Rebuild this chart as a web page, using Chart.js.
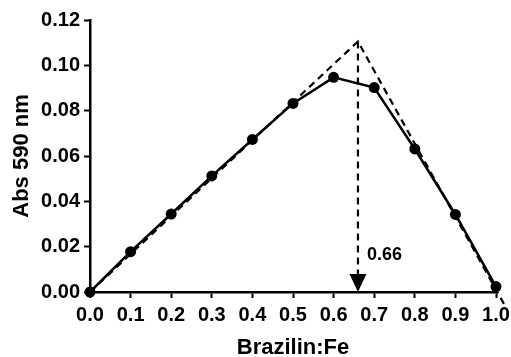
<!DOCTYPE html>
<html>
<head>
<meta charset="utf-8">
<script src="https://cdn.jsdelivr.net/npm/chart.js@4/dist/chart.umd.min.js"></script>
<style>
html,body{margin:0;padding:0;background:#fff;}
#wrap{width:511px;height:357px;position:relative;}
</style>
</head>
<body>
<div id="wrap"><canvas id="c" width="511" height="357"></canvas></div>
<script>
// Data
const ratios = [0.0, 0.1, 0.2, 0.3, 0.4, 0.5, 0.6, 0.7, 0.8, 0.9, 1.0];
const absorbance = [0.0, 0.0178, 0.0344, 0.0512, 0.0673, 0.0832, 0.0947, 0.0902, 0.0631, 0.0342, 0.0024];
const fitX = [0.0, 0.66, 1.025];
const fitY = [0.0, 0.1105, -0.007];
const intersectX = [0.66, 0.66];
const intersectY = [0.1105, 0.0];
const intersectLabel = '0.66';
const xTicks = [0.0, 0.1, 0.2, 0.3, 0.4, 0.5, 0.6, 0.7, 0.8, 0.9, 1.0];
const yTicks = [0.00, 0.02, 0.04, 0.06, 0.08, 0.10, 0.12];
const xTitle = 'Brazilin:Fe';
const yTitle = 'Abs 590 nm';

const FONT = "'Liberation Sans', Arial, sans-serif";

const arrowPlugin = {
  id: 'arrowPlugin',
  afterDatasetsDraw(chart) {
    const ctx = chart.ctx;
    const xs = chart.scales.x, ys = chart.scales.y;
    const px = xs.getPixelForValue(intersectX[1]);
    const tipY = ys.getPixelForValue(intersectY[1]);
    ctx.save();
    ctx.fillStyle = '#000';
    ctx.beginPath();
    ctx.moveTo(px, tipY);
    ctx.lineTo(px - 8.5, tipY - 18);
    ctx.lineTo(px + 8.5, tipY - 18);
    ctx.closePath();
    ctx.fill();
    ctx.font = "bold 18px " + FONT;
    ctx.textAlign = 'left';
    ctx.textBaseline = 'middle';
    ctx.fillText(intersectLabel, px + 9, ys.getPixelForValue(0.0165));
    ctx.restore();
  }
};

new Chart(document.getElementById('c'), {
  type: 'scatter',
  data: {
    datasets: [
      {
        label: 'fit',
        data: fitX.map((x, i) => ({x, y: fitY[i]})),
        showLine: true,
        borderColor: '#000',
        borderWidth: 2.2,
        borderDash: [7, 5],
        pointRadius: 0,
        clip: false,
        order: 2
      },
      {
        label: 'intersect',
        data: intersectX.map((x, i) => ({x, y: intersectY[i]})),
        showLine: true,
        borderColor: '#000',
        borderWidth: 2.2,
        borderDash: [7, 5],
        pointRadius: 0,
        order: 3
      },
      {
        label: 'data',
        data: ratios.map((x, i) => ({x, y: absorbance[i]})),
        showLine: true,
        borderColor: '#000',
        backgroundColor: '#000',
        borderWidth: 2.5,
        pointRadius: 5.5,
        pointBackgroundColor: '#000',
        pointBorderWidth: 0,
        clip: false,
        order: 1
      }
    ]
  },
  options: {
    responsive: false,
    animation: false,
    devicePixelRatio: 1,
    layout: {padding: {left: 0, right: 15, top: 20, bottom: 0}},
    plugins: {legend: {display: false}, tooltip: {enabled: false}},
    scales: {
      x: {
        type: 'linear',
        min: 0, max: 1,
        afterBuildTicks(s) { s.ticks = xTicks.map(v => ({value: v})); },
        afterFit(s) { s.height = 65; s.paddingRight = 0; s.paddingLeft = 0; },
        grid: {drawOnChartArea: false, drawTicks: true, tickLength: 6, tickWidth: 2, tickColor: '#000'},
        border: {display: true, color: '#000', width: 2.5},
        ticks: {
          color: '#000', padding: 5, maxRotation: 0, autoSkip: false,
          font: {family: FONT, size: 20, weight: 'bold'},
          callback: v => Number(v).toFixed(1)
        },
        title: {display: true, text: xTitle, color: '#000', padding: {top: 0, bottom: 0},
          font: {family: FONT, size: 22, weight: 'bold', lineHeight: 0.8}}
      },
      y: {
        type: 'linear',
        min: 0, max: 0.12,
        afterBuildTicks(s) { s.ticks = yTicks.map(v => ({value: v})); },
        afterFit(s) { s.width = 90; s.paddingTop = 0; s.paddingBottom = 0; },
        grid: {drawOnChartArea: false, drawTicks: true, tickLength: 6, tickWidth: 2, tickColor: '#000'},
        border: {display: true, color: '#000', width: 2.5},
        ticks: {
          color: '#000', padding: 4, autoSkip: false,
          font: {family: FONT, size: 20, weight: 'bold'},
          callback: v => Number(v).toFixed(2)
        },
        title: {display: true, text: yTitle, color: '#000', padding: {top: 9, bottom: 9},
          font: {family: FONT, size: 22, weight: 'bold'}}
      }
    }
  },
  plugins: [arrowPlugin]
});
</script>
</body>
</html>
